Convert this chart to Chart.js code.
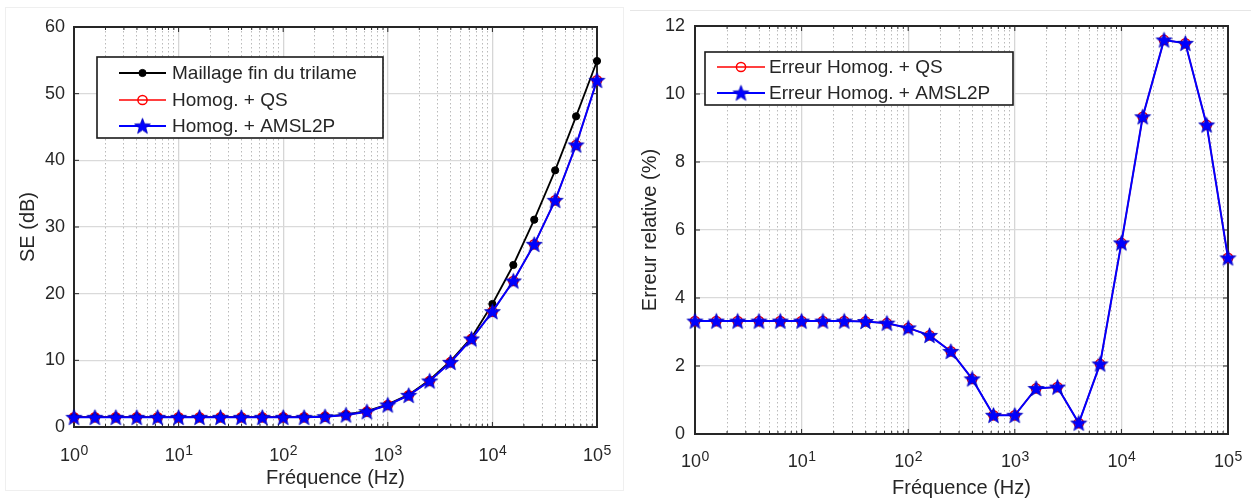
<!DOCTYPE html>
<html>
<head>
<meta charset="utf-8">
<script src="https://cdn.jsdelivr.net/npm/chart.js@4.4.1/dist/chart.umd.min.js"></script>
<style>
html, body { margin: 0; padding: 0; background: #fff; }
body { width: 1251px; height: 500px; position: relative; overflow: hidden; }
.panel { position: absolute; top: 0; height: 500px; }
#left { left: 0; width: 625px; }
#right { left: 625px; width: 626px; }
.frame-l { position: absolute; left: 5px; top: 7px; width: 617px; height: 482px; border: 1px solid #efefef; }
.frame-r { position: absolute; left: 630px; top: 10px; width: 621px; height: 0; border-top: 1px solid #e6e6e6; }
canvas { position: absolute; left: 0; top: 0; }
</style>
</head>
<body>
<div class="frame-l"></div>
<div class="frame-r"></div>
<div class="panel" id="left"><canvas id="chart-se" width="625" height="500"></canvas></div>
<div class="panel" id="right"><canvas id="chart-err" width="626" height="500"></canvas></div>
<script>
// frequency points (Hz), 5 per decade
const freqs = [1, 1.585, 2.512, 3.981, 6.31, 10, 15.85, 25.12, 39.81, 63.1, 100, 158.5, 251.2, 398.1, 631, 1000, 1585, 2512, 3981, 6310, 10000, 15850, 25120, 39810, 63100, 100000];

// SE (dB)
const seFine = [1.5, 1.5, 1.5, 1.5, 1.5, 1.5, 1.5, 1.5, 1.5, 1.5, 1.5, 1.5, 1.6, 1.85, 2.4, 3.4, 4.85, 7.05, 9.9, 13.4, 18.45, 24.3, 31.1, 38.5, 46.6, 54.9];
const seQS = [1.45, 1.45, 1.45, 1.45, 1.45, 1.45, 1.45, 1.45, 1.45, 1.45, 1.45, 1.45, 1.55, 1.8, 2.3, 3.3, 4.75, 6.9, 9.7, 13.2, 17.3, 21.9, 27.4, 34.0, 42.3, 52.0];
const seAMSL = [1.45, 1.45, 1.45, 1.45, 1.45, 1.45, 1.45, 1.45, 1.45, 1.45, 1.45, 1.45, 1.55, 1.8, 2.3, 3.3, 4.75, 6.9, 9.7, 13.2, 17.3, 21.9, 27.4, 34.0, 42.3, 52.0];

// relative error (%)
const errQS = [3.32, 3.32, 3.32, 3.32, 3.32, 3.32, 3.32, 3.32, 3.31, 3.26, 3.12, 2.9, 2.43, 1.62, 0.55, 0.55, 1.34, 1.38, 0.32, 2.06, 5.62, 9.33, 11.59, 11.49, 9.09, 5.18];
const errAMSL = [3.32, 3.32, 3.32, 3.32, 3.32, 3.32, 3.32, 3.32, 3.31, 3.26, 3.12, 2.9, 2.43, 1.62, 0.55, 0.55, 1.34, 1.38, 0.32, 2.06, 5.62, 9.33, 11.59, 11.49, 9.09, 5.18];

// x axis ticks: 10^n labels
const decades = [1, 10, 100, 1000, 10000, 100000];
const decadeExps = ['0', '1', '2', '3', '4', '5'];
const minorSteps = [2, 3, 4, 5, 6, 7, 8, 9];

const TXT = '#262626';
const FONT = '"Liberation Sans", Arial, sans-serif';
Chart.defaults.font.family = FONT;
Chart.defaults.color = TXT;

const gridTicks = [];
decades.forEach(d => {
    gridTicks.push(d);
    if (d < 100000) minorSteps.forEach(m => gridTicks.push(d * m));
});
const isDecade = v => decades.indexOf(v) >= 0;

// filled pentagram marker
function makeStar(r) {
    const c = document.createElement('canvas');
    const s = Math.ceil(r * 2 + 2);
    c.width = s; c.height = s;
    const g = c.getContext('2d');
    g.beginPath();
    for (let i = 0; i < 10; i++) {
        const a = -Math.PI / 2 + i * Math.PI / 5;
        const rr = i % 2 ? r * 0.42 : r;
        const px = s / 2 + rr * Math.cos(a), py = s / 2 + 0.6 + rr * Math.sin(a);
        i ? g.lineTo(px, py) : g.moveTo(px, py);
    }
    g.closePath();
    g.fillStyle = '#0000ff';
    g.fill();
    g.strokeStyle = '#0000b8';
    g.lineWidth = 0.8;
    g.stroke();
    return c;
}
const star = makeStar(8.3);

const toXY = arr => freqs.map((f, i) => ({ x: f, y: arr[i] }));

// axes box + inward ticks, drawn over the grid but under the data
const matlabBox = {
    id: 'matlabBox',
    beforeDatasetsDraw(chart) {
        const { ctx, chartArea: a, scales } = chart;
        ctx.save();
        ctx.strokeStyle = TXT;
        ctx.lineWidth = 1;
        ctx.beginPath();
        scales.y.ticks.forEach(t => {
            const py = scales.y.getPixelForValue(t.value);
            ctx.moveTo(a.left, py); ctx.lineTo(a.left + 5, py);
            ctx.moveTo(a.right, py); ctx.lineTo(a.right - 5, py);
        });
        gridTicks.forEach(v => {
            const px = scales.x.getPixelForValue(v);
            const len = isDecade(v) ? 5 : 3;
            ctx.moveTo(px, a.bottom); ctx.lineTo(px, a.bottom - len);
            ctx.moveTo(px, a.top); ctx.lineTo(px, a.top + len);
        });
        ctx.stroke();
        ctx.lineWidth = 2;
        ctx.strokeRect(a.left, a.top, a.right - a.left, a.bottom - a.top);
        ctx.restore();
    },
    // 10^n labels with a raised exponent
    afterDraw(chart, args, opts) {
        const { ctx, scales } = chart;
        const base = opts.labelBaseline;
        ctx.save();
        ctx.fillStyle = TXT;
        ctx.textBaseline = 'alphabetic';
        ctx.textAlign = 'left';
        decades.forEach((d, i) => {
            const px = scales.x.getPixelForValue(d);
            ctx.font = '18px ' + FONT;
            const w1 = ctx.measureText('10').width;
            ctx.font = '14px ' + FONT;
            const w2 = ctx.measureText(decadeExps[i]).width;
            const x0 = px - (w1 + w2) / 2;
            ctx.font = '18px ' + FONT;
            ctx.fillText('10', x0, base);
            ctx.font = '14px ' + FONT;
            ctx.fillText(decadeExps[i], x0 + w1 + 0.5, base - 6);
        });
        ctx.restore();
    }
};

// boxed legend inside the axes
const boxLegend = {
    id: 'boxLegend',
    afterDraw(chart, args, opts) {
        if (!opts || !opts.rows) return;
        const ctx = chart.ctx;
        ctx.save();
        ctx.fillStyle = '#fff';
        ctx.fillRect(opts.x, opts.y, opts.w, opts.h);
        ctx.strokeStyle = '#1a1a1a';
        ctx.lineWidth = 1.6;
        ctx.strokeRect(opts.x, opts.y, opts.w, opts.h);
        opts.rows.forEach(row => {
            const ds = chart.data.datasets[row.ds];
            ctx.strokeStyle = ds.borderColor;
            ctx.lineWidth = ds.borderWidth;
            ctx.beginPath();
            ctx.moveTo(opts.lineX0, row.y);
            ctx.lineTo(opts.lineX1, row.y);
            ctx.stroke();
            const mx = (opts.lineX0 + opts.lineX1) / 2;
            if (ds.pointStyle === 'circle') {
                ctx.beginPath();
                ctx.arc(mx, row.y, ds.pointRadius, 0, Math.PI * 2);
                if (ds.pointBackgroundColor !== 'transparent') {
                    ctx.fillStyle = ds.pointBackgroundColor;
                    ctx.fill();
                }
                ctx.strokeStyle = ds.pointBorderColor;
                ctx.lineWidth = ds.pointBorderWidth;
                ctx.stroke();
            } else {
                ctx.drawImage(ds.pointStyle, mx - ds.pointStyle.width / 2, row.y - ds.pointStyle.height / 2);
            }
            ctx.fillStyle = TXT;
            ctx.font = '19px ' + FONT;
            ctx.textBaseline = 'middle';
            ctx.fillText(row.text, opts.textX, row.y + 1);
        });
        ctx.restore();
    }
};

function xAxis(height, titlePad) {
    return {
        type: 'logarithmic',
        min: 1,
        max: 100000,
        afterBuildTicks: axis => { axis.ticks = gridTicks.map(v => ({ value: v, major: isDecade(v) })); },
        afterFit: scale => { scale.height = height; },
        ticks: { display: false, autoSkip: false },
        grid: {
            drawTicks: false,
            color: ctx => ctx.tick && isDecade(ctx.tick.value) ? '#d6d6d6' : '#bababa',
            lineWidth: ctx => ctx.tick && isDecade(ctx.tick.value) ? 1.3 : 1
        },
        border: {
            color: TXT,
            width: 1.5,
            dash: ctx => ctx.tick && !isDecade(ctx.tick.value) ? [1.5, 2.5] : []
        },
        title: { display: true, text: 'Fréquence (Hz)', font: { size: 20 }, padding: { top: 0, bottom: titlePad } }
    };
}

function yAxis(width, max, step, title, titlePad, tickPad) {
    return {
        min: 0,
        max: max,
        afterFit: scale => { scale.width = width; },
        ticks: { stepSize: step, padding: tickPad, font: { size: 18 } },
        grid: { drawTicks: false, color: '#dadada', lineWidth: 1.3 },
        border: { color: TXT, width: 1.5 },
        title: { display: true, text: title, font: { size: 20 }, padding: { top: titlePad, bottom: 0 } }
    };
}

const fineStyle = {
    borderColor: '#000000', borderWidth: 1.8,
    pointStyle: 'circle', pointRadius: 3.6, pointBackgroundColor: '#000000',
    pointBorderColor: '#000000', pointBorderWidth: 1
};
const qsStyle = {
    borderColor: '#ff0000', borderWidth: 1.5,
    pointStyle: 'circle', pointRadius: 4.6, pointBackgroundColor: 'transparent',
    pointBorderColor: '#ff0000', pointBorderWidth: 1.5
};
const amslStyle = {
    borderColor: '#0000ff', borderWidth: 2,
    pointStyle: star, pointRadius: 8, pointBackgroundColor: '#0000ff',
    pointBorderColor: '#0000ff', pointBorderWidth: 0
};

function commonOpts() {
    return {
        responsive: false,
        animation: false,
        events: [],
        plugins: { legend: { display: false }, tooltip: { enabled: false } }
    };
}

// SE chart
const seOpts = commonOpts();
seOpts.layout = { padding: { left: 0, top: 27, right: 28, bottom: 0 } };
seOpts.scales = { x: xAxis(73, 10), y: yAxis(74, 60, 10, 'SE (dB)', 16, 9) };
seOpts.plugins.matlabBox = { labelBaseline: 461 };
seOpts.plugins.boxLegend = {
    x: 97, y: 57, w: 286, h: 81,
    lineX0: 119, lineX1: 166, textX: 172,
    rows: [
        { text: 'Maillage fin du trilame', y: 73, ds: 0 },
        { text: 'Homog. + QS', y: 100, ds: 1 },
        { text: 'Homog. + AMSL2P', y: 126, ds: 2 }
    ]
};
new Chart(document.getElementById('chart-se').getContext('2d'), {
    type: 'line',
    data: {
        datasets: [
            Object.assign({ label: 'Maillage fin du trilame', data: toXY(seFine), order: 3, clip: false, tension: 0 }, fineStyle),
            Object.assign({ label: 'Homog. + QS', data: toXY(seQS), order: 2, clip: false, tension: 0 }, qsStyle),
            Object.assign({ label: 'Homog. + AMSL2P', data: toXY(seAMSL), order: 1, clip: false, tension: 0 }, amslStyle)
        ]
    },
    options: seOpts,
    plugins: [matlabBox, boxLegend]
});

// relative error chart
const errOpts = commonOpts();
errOpts.layout = { padding: { left: 0, top: 26, right: 23, bottom: 0 } };
errOpts.scales = { x: xAxis(66, 0), y: yAxis(70, 12, 2, 'Erreur relative (%)', 13, 10) };
errOpts.plugins.matlabBox = { labelBaseline: 467 };
errOpts.plugins.boxLegend = {
    x: 80, y: 52, w: 308, h: 53,
    lineX0: 92, lineX1: 140, textX: 144,
    rows: [
        { text: 'Erreur Homog. + QS', y: 67, ds: 0 },
        { text: 'Erreur Homog. + AMSL2P', y: 93, ds: 1 }
    ]
};
new Chart(document.getElementById('chart-err').getContext('2d'), {
    type: 'line',
    data: {
        datasets: [
            Object.assign({ label: 'Erreur Homog. + QS', data: toXY(errQS), order: 2, clip: false, tension: 0 }, qsStyle),
            Object.assign({ label: 'Erreur Homog. + AMSL2P', data: toXY(errAMSL), order: 1, clip: false, tension: 0 }, amslStyle)
        ]
    },
    options: errOpts,
    plugins: [matlabBox, boxLegend]
});
</script>
</body>
</html>
